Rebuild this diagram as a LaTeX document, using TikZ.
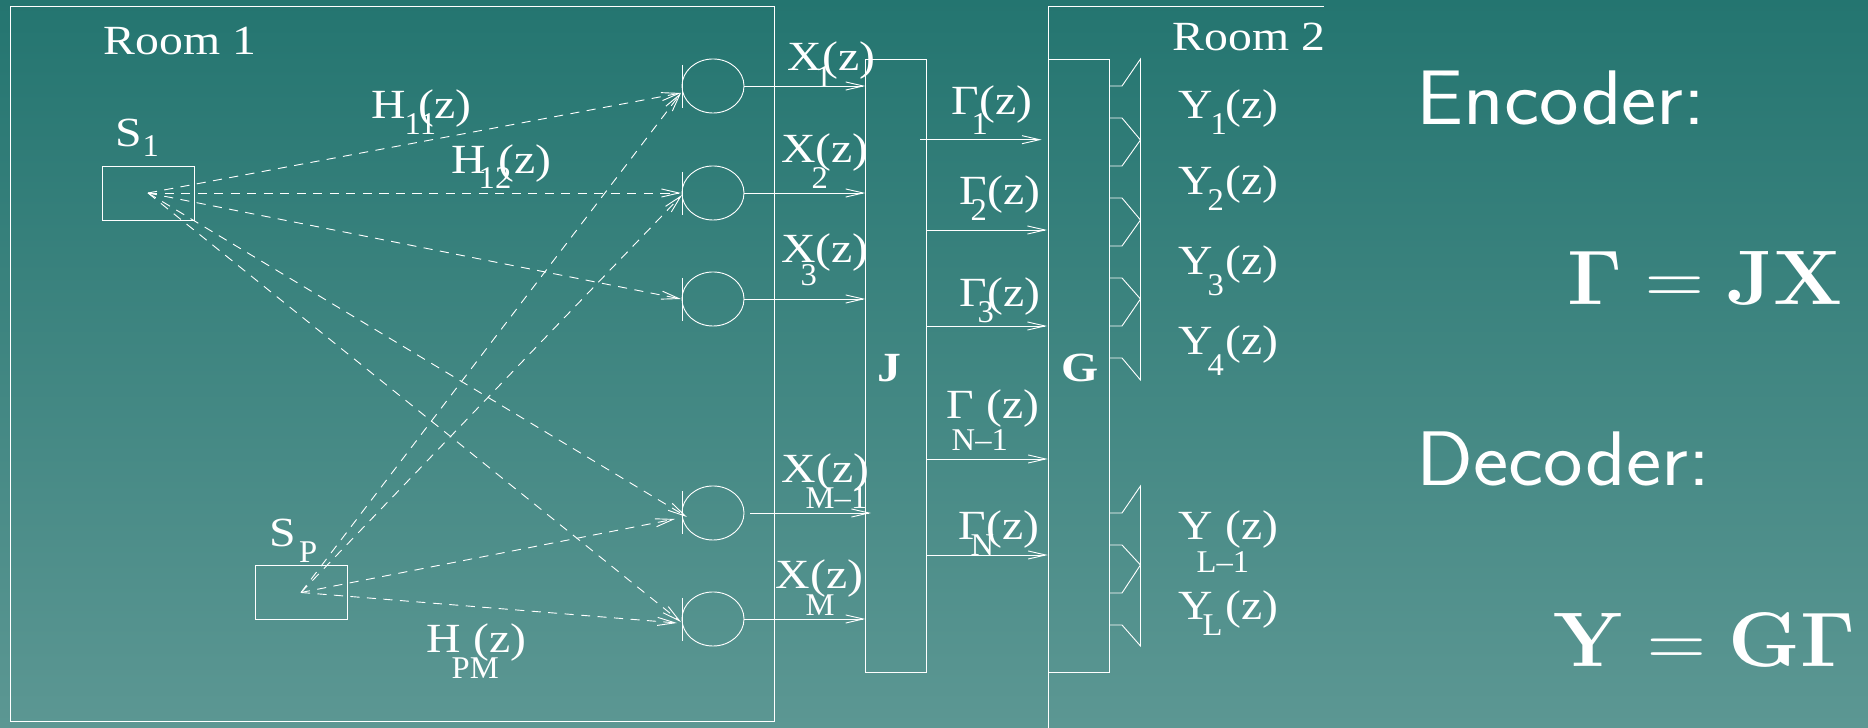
\documentclass[tikz,border=0pt]{standalone}
\usepackage[no-math]{fontspec}
\usepackage{amsmath}
\usepackage{xcolor}
\usepackage{tikz}
\usetikzlibrary{arrows.meta, positioning, shapes.geometric}
\setmainfont{Liberation Serif}
\definecolor{RoomTop}{RGB}{36,117,112}
\definecolor{RoomBottom}{RGB}{92,151,147}
\tikzset{
  wire/.style={draw=white, line width=0.26pt},
  arr/.style={wire, -{Straight Barb[length=5pt,width=2.3pt]}},
  darr/.style={arr, dash pattern=on 2.6pt off 2.1pt},
  srcbox/.style={
    rectangle, wire, minimum width=0.92cm, minimum height=0.54cm, inner sep=0pt
  },
  blockbox/.style={
    rectangle, wire, minimum width=0.605cm, minimum height=6.13cm, inner sep=0pt
  },
  mic/.style={
    ellipse, wire, minimum width=0.62cm, minimum height=0.54cm, inner sep=0pt
  },
  lbl/.style={
    anchor=base west, inner sep=0pt, text=white, yshift=-0.3pt,
    font=\fontsize{11.8pt}{14pt}\selectfont, xscale=1.15, transform shape
  },
  sublbl/.style={
    anchor=base west, inner sep=0pt, text=white, yshift=-0.3pt,
    font=\fontsize{9pt}{11pt}\selectfont, xscale=1.03, transform shape
  },
  boldlbl/.style={lbl, font=\fontsize{11.8pt}{14pt}\selectfont\bfseries},
  headlbl/.style={
    anchor=base west, inner sep=0pt, text=white,
    font=\fontsize{22pt}{26pt}\selectfont\sffamily, xscale=1.085, transform shape
  },
  eqnlbl/.style={
    anchor=base west, inner sep=0pt, text=white,
    font=\fontsize{20.74pt}{25pt}\selectfont, xscale=1.115, yscale=1.06, transform shape
  }
}
\begin{document}
\begin{tikzpicture}[x=0.01cm, y=-0.01cm]

  % Background
  \useasboundingbox (0,0) rectangle (1868,728);
  \fill[top color=RoomTop, bottom color=RoomBottom] (0,0) rectangle (1868,728);

  % ── Room outlines ──
  \draw[wire] (10,6) rectangle (774,721);
  \draw[wire] (1323.5,6) -- (1048.5,6) -- (1048.5,728);
  \node[lbl] (room1) at (103,53)  {Room 1};
  \node[lbl] (room2) at (1172,49) {Room 2};

  % ── Sources ──
  \node[srcbox] (s1) at (148,193)   {};
  \node[srcbox] (sp) at (301,592.5) {};
  \node[lbl]    (s1lab) at (115,145) {S};
  \node[sublbl] (s1sub) at (142,155) {1};
  \node[lbl]    (splab) at (269,545) {S};
  \node[sublbl] (spsub) at (298.5,561) {P};

  % ── Microphones ──
  \node[mic] (m1) at (713,86)  {};
  \node[mic] (m2) at (713,193) {};
  \node[mic] (m3) at (713,299) {};
  \node[mic] (m4) at (713,513) {};
  \node[mic] (m5) at (713,619) {};
  \draw[wire] (682,65)  -- (682,108);
  \draw[wire] (682,172) -- (682,215);
  \draw[wire] (682,278) -- (682,321);
  \draw[wire] (682,491) -- (682,534);
  \draw[wire] (682,598) -- (682,641);

  % ── Encoder and decoder blocks ──
  \node[blockbox] (jbox) at (896,366)    {};
  \node[blockbox] (gbox) at (1079,366)   {};
  \node[boldlbl]  (jlab) at (877,380)    {J};
  \node[boldlbl]  (glab) at (1061,380)   {G};

  % ── Loudspeakers ──
  \draw[wire] (1109,86) -- (1122,86) -- (1140.5,59) -- (1140.5,380) -- (1122,358) -- (1109,358);
  \draw[wire] (1109,118) -- (1122,118) -- (1140.5,140) -- (1122,166) -- (1109,166);
  \draw[wire] (1109,198) -- (1122,198) -- (1140.5,220) -- (1122,246) -- (1109,246);
  \draw[wire] (1109,278) -- (1122,278) -- (1140.5,299) -- (1122,326) -- (1109,326);
  \draw[wire] (1109,513) -- (1122,513) -- (1140.5,486) -- (1140.5,646) -- (1122,625) -- (1109,625);
  \draw[wire] (1109,545) -- (1122,545) -- (1140.5,565) -- (1122,593) -- (1109,593);

  % ── Channel end points ──
  \coordinate (t11) at (681,93);
  \coordinate (t12) at (681,193);
  \coordinate (t13) at (681,299);
  \coordinate (t14) at (687,517);
  \coordinate (t15) at (681,622);
  \coordinate (tp1) at (681,93);
  \coordinate (tp2) at (682,195);
  \coordinate (tp4) at (675,519);
  \coordinate (tp5) at (677,623);

  % ── Channels ──
  \draw[darr] (s1.center) -- (t11);
  \draw[darr] (s1.center) -- (t12);
  \draw[darr] (s1.center) -- (t13);
  \draw[darr] (s1.center) -- (t14);
  \draw[darr] (s1.center) -- (t15);
  \draw[darr] (sp.center) -- (tp1);
  \draw[darr] (sp.center) -- (tp2);
  \draw[darr] (sp.center) -- (tp4);
  \draw[darr] (sp.center) -- (tp5);

  % ── Microphone outputs ──
  \coordinate (x4a) at (750,513);
  \coordinate (x4b) at (871,513);
  \draw[arr] (m1.east) -- (m1.east -| jbox.west);
  \draw[arr] (m2.east) -- (m2.east -| jbox.west);
  \draw[arr] (m3.east) -- (m3.east -| jbox.west);
  \draw[arr] (x4a) -- (x4b);
  \draw[arr] (m5.east) -- (m5.east -| jbox.west);

  % ── Encoder outputs ──
  \coordinate (c1a) at (920,139.7);
  \coordinate (c1b) at (1041.6,139.7);
  \coordinate (c2a) at (926,230);
  \coordinate (c2b) at (1047,230);
  \coordinate (c3a) at (926,326);
  \coordinate (c3b) at (1047,326);
  \coordinate (c4a) at (926,459);
  \coordinate (c4b) at (1047.7,459);
  \coordinate (c5a) at (926,555);
  \coordinate (c5b) at (1047.7,555);
  \draw[arr] (c1a) -- (c1b);
  \draw[arr] (c2a) -- (c2b);
  \draw[arr] (c3a) -- (c3b);
  \draw[arr] (c4a) -- (c4b);
  \draw[arr] (c5a) -- (c5b);

  % ── Channel labels ──
  \node[lbl]    (h11)    at (371,117) {H (z)};
  \node[sublbl] (h11sub) at (404,133) {11};
  \node[lbl]    (h12)    at (451,172) {H (z)};
  \node[sublbl] (h12sub) at (478,187) {12};
  \node[lbl]    (hpm)    at (426,651) {H (z)};
  \node[sublbl] (hpmsub) at (451,677) {PM};

  % ── Input labels ──
  \node[lbl]    (x1)    at (787,69)    {X(z)};
  \node[sublbl] (x1sub) at (815,86)    {1};
  \node[lbl]    (x2)    at (780.5,161) {X(z)};
  \node[sublbl] (x2sub) at (811,187)   {2};
  \node[lbl]    (x3)    at (780.5,261) {X(z)};
  \node[sublbl] (x3sub) at (800,284)   {3};
  \node[lbl]    (x4)    at (781,481)   {X(z)};
  \node[sublbl] (x4sub) at (805,507)   {M–1};
  \node[lbl]    (x5)    at (775,587)   {X(z)};
  \node[sublbl] (x5sub) at (805,614)   {M};

  % ── Coded signal labels ──
  \node[lbl]    (c1)    at (951,113)  {Γ(z)};
  \node[sublbl] (c1sub) at (971,133)  {1};
  \node[lbl]    (c2)    at (959,203)  {Γ(z)};
  \node[sublbl] (c2sub) at (970,219)  {2};
  \node[lbl]    (c3)    at (959,305)  {Γ(z)};
  \node[sublbl] (c3sub) at (977,321)  {3};
  \node[lbl]    (c4)    at (946,417)  {Γ (z)};
  \node[sublbl] (c4sub) at (951,449)  {N–1};
  \node[lbl]    (c5)    at (958,538)  {Γ(z)};
  \node[sublbl] (c5sub) at (970,554)  {N};

  % ── Output labels ──
  \node[lbl]    (y1)    at (1178,117) {Y (z)};
  \node[sublbl] (y1sub) at (1210,133) {1};
  \node[lbl]    (y2)    at (1178,193) {Y (z)};
  \node[sublbl] (y2sub) at (1207,209) {2};
  \node[lbl]    (y3)    at (1178,273) {Y (z)};
  \node[sublbl] (y3sub) at (1207,294) {3};
  \node[lbl]    (y4)    at (1178,353) {Y (z)};
  \node[sublbl] (y4sub) at (1207,374) {4};
  \node[lbl]    (y5)    at (1178,538) {Y (z)};
  \node[sublbl] (y5sub) at (1196,571) {L–1};
  \node[lbl]    (y6)    at (1178,618) {Y (z)};
  \node[sublbl] (y6sub) at (1202,634) {L};

  % ── Equations ──
  \node[headlbl] (enc)    at (1416,124.4) {Encoder:};
  \node[eqnlbl]  (enceq)  at (1567,304.5) {$\mathbf{\Gamma} = \mathbf{JX}$};
  \node[headlbl] (dec)    at (1416,486)   {Decoder:};
  \node[eqnlbl]  (deceq)  at (1553,667)   {$\mathbf{Y} = \mathbf{G\Gamma}$};

\end{tikzpicture}
\end{document}
